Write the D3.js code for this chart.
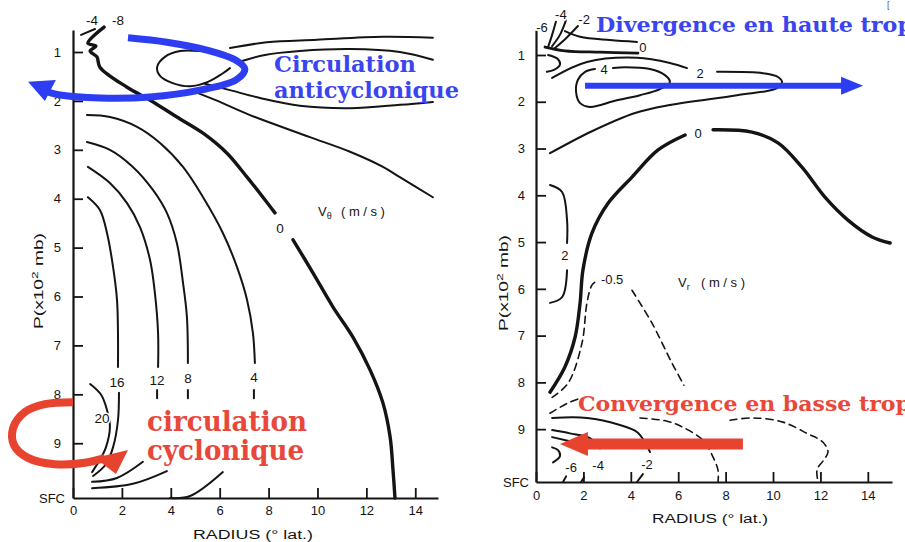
<!DOCTYPE html>
<html><head><meta charset="utf-8">
<script src="https://cdn.jsdelivr.net/npm/d3@7"></script>
<style>
html,body{margin:0;padding:0;background:#fff;overflow:hidden}
svg{display:block}
</style></head><body>
<svg id="chart" width="905" height="542"></svg>
<script>
// ---------- ticks ----------
const rTicks = [0, 2, 4, 6, 8, 10, 12, 14];
const pTicks = [1, 2, 3, 4, 5, 6, 7, 8, 9];
const sfcLeft = 10.12, sfcRight = 10.13;

// ---------- LEFT PANEL : V_theta contours  [radius (deg lat), pressure (x100 mb)] ----------
const vt0a = [[1.27,0.49],[0.61,0.82],[0.94,0.88],[0.70,0.98],[0.98,1.10],[1.10,1.31],[2.21,1.72],[3.14,1.98],[4.25,2.33],[5.32,2.66],[6.30,3.07],[7.12,3.56],[7.77,3.97],[8.26,4.29]];
const vt0b = [[9.00,4.84],[9.82,5.52],[10.63,6.21],[11.45,6.83],[12.15,7.50],[12.68,8.18],[12.97,8.87],[13.09,9.55],[13.17,10.12]];
const vtM4top = [[0.33,0.65],[0.90,0.53]];
const vtM4loop = [[6.50,1.16],[5.93,1.04],[5.19,0.98],[4.38,0.98],[3.76,1.10],[3.44,1.31],[3.56,1.49],[4.05,1.63],[4.79,1.70],[5.52,1.61],[6.09,1.45],[6.42,1.33]];
const vtOuter = [[6.42,0.92],[7.93,0.80],[9.98,0.75],[12.68,0.69],[14.72,0.71]];
const vtJetTop = [[6.95,1.18],[7.85,1.06],[9.28,0.98],[11.33,0.94],[13.37,1.00],[14.72,1.16]];
const vtJetBot = [[5.40,1.65],[6.42,1.78],[7.65,1.94],[9.28,2.10],[11.33,2.15],[13.37,2.08],[14.72,2.02]];
const vtNeg = [[4.79,1.78],[5.81,1.98],[7.24,2.29],[9.69,2.74],[11.33,3.04],[12.68,3.35],[13.37,3.56],[14.72,3.97]];
const vt4 = [[0.57,2.29],[1.51,2.33],[2.62,2.53],[3.56,2.86],[4.50,3.35],[5.32,3.97],[6.13,4.70],[6.71,5.40],[7.12,6.07],[7.36,6.75],[7.44,7.36]];
const vt4tail = [[7.40,7.91],[7.40,8.08]];
const vt4low = [[3.97,10.12],[4.79,10.08],[6.13,9.59]];
const vt8 = [[0.57,2.84],[1.51,3.00],[2.45,3.35],[3.27,3.82],[3.84,4.29],[4.25,4.91],[4.50,5.72],[4.66,6.42],[4.70,7.36]];
const vt8tail = [[4.70,7.91],[4.70,8.08]];
const vt8low = [[0.78,9.92],[2.45,9.83],[3.84,9.57]];
const vt12 = [[0.61,3.35],[1.51,3.68],[2.21,4.09],[2.74,4.58],[3.15,5.25],[3.35,5.93],[3.48,6.75],[3.48,7.44]];
const vt12tail = [[3.44,7.91],[3.44,8.08]];
const vt12low = [[0.78,9.79],[1.80,9.71],[2.86,9.38]];
const vt16 = [[0.61,3.97],[1.10,4.23],[1.39,4.70],[1.64,5.40],[1.80,6.07],[1.84,6.75],[1.84,7.44]];
const vt16low = [[1.88,7.97],[1.84,8.53],[1.64,9.08],[1.35,9.43],[0.82,9.67]];
const vt20 = [[0.70,7.79],[1.15,8.01],[1.39,8.32],[1.51,8.67],[1.35,9.08],[1.10,9.34],[0.78,9.59]];
const vtLabelText = ["-4", "-8", "0", "4", "8", "12", "16", "20"];
const vtLabelPos = [[0.78,0.35],[1.84,0.35],[8.47,4.60],[7.40,7.65],[4.70,7.67],[3.44,7.71],[1.80,7.75],[1.19,8.50]];

// ---------- RIGHT PANEL : V_r contours ----------
const vr0a = [[0.59,8.21],[1.22,7.67],[1.65,7.03],[1.86,6.30],[1.98,5.60],[2.36,4.81],[3.04,4.17],[4.05,3.61],[5.15,3.03],[6.29,2.71]];
const vr0b = [[7.47,2.60],[9.11,2.65],[10.21,2.88],[11.22,3.40],[12.19,4.04],[13.16,4.53],[14.18,4.89],[14.94,5.02]];
const vr2a = [[0.59,3.78],[1.10,3.93],[1.31,4.53],[1.31,5.02]];
const vr2b = [[1.31,5.60],[1.10,6.18],[0.59,6.30]];
const vr2loopA = [[0.59,3.10],[2.36,2.63],[4.18,2.24],[5.65,2.07],[8.48,1.86],[10.17,1.71],[10.38,1.58],[10.21,1.47],[9.58,1.39],[7.64,1.36]];
const vr2loopB = [[6.37,1.28],[5.65,1.17],[4.26,1.06],[2.15,1.15],[0.68,1.49]];
const vr4loop = [[3.25,1.28],[3.76,1.26],[4.81,1.30],[5.44,1.43],[5.65,1.58],[5.23,1.73],[4.39,1.86],[3.33,1.98],[2.28,2.11],[1.86,2.03],[1.69,1.79],[1.77,1.53],[2.07,1.36],[2.49,1.30]];
const vrTop0a = [[1.22,0.49],[1.86,0.61],[3.12,0.68],[4.26,0.72]];
const vrTop0b = [[0.38,0.83],[1.22,0.91],[2.70,0.94],[4.30,0.96]];
const vrBracket = [[0.51,1.00],[0.93,1.09],[1.01,1.21],[0.76,1.32],[0.46,1.36]];
const vrCore1 = [[0.84,0.29],[0.68,0.57],[0.51,0.83]];
const vrCore2 = [[1.27,0.25],[1.01,0.57],[0.68,0.81]];
const vrCore3 = [[1.77,0.38],[1.27,0.64],[0.80,0.85]];
const vrM2a = [[0.68,8.76],[2.15,8.76],[3.54,8.91],[4.26,9.06],[4.60,9.28],[4.81,9.49]];
const vrM2b = [[4.51,9.96],[4.26,10.13]];
const vrM4a = [[0.68,9.02],[1.43,9.09],[2.28,9.19],[2.70,9.41]];
const vrM4b = [[2.03,10.03],[1.90,10.13]];
const vrM3 = [[0.68,9.17],[1.43,9.26]];
const vrM6a = [[0.68,9.39],[0.93,9.45],[1.01,9.58],[0.72,9.71]];
const vrM6b = [[1.27,10.01],[1.14,10.13]];
// dashed (-0.5 / -1) contours
const vrD05a = [[0.68,8.32],[1.35,8.02],[1.94,7.16],[2.15,6.30],[2.36,5.92],[2.57,5.83]];
const vrD05b = [[4.05,6.03],[4.89,6.73],[5.74,7.59],[6.24,8.06]];
const vrDshort = [[0.59,8.66],[1.31,8.45],[1.86,8.34]];
const vrDmid = [[4.39,8.76],[5.53,8.83],[6.20,8.96],[7.05,9.24],[7.47,9.60],[7.68,9.88],[7.68,10.13]];
const vrDout = [[8.19,8.81],[9.16,8.76],[10.42,8.85],[11.43,9.09],[12.11,9.28],[12.32,9.49],[12.11,9.68],[11.86,9.86],[11.90,10.13]];
const vrLabelText = ["-6", "-4", "-2", "0", "4", "2", "0", "2", "-0.5", "-6", "-4", "-2"];
const vrLabelPos = [[0.25,0.42],[1.05,0.14],[2.03,0.25],[4.51,0.83],[2.87,1.32],[6.92,1.39],[6.84,2.67],[1.22,5.28],[3.21,5.81],[1.48,9.81],[2.62,9.77],[4.68,9.75]];

// ---------- annotation arrows ----------
const blueLoop = [[2.25,0.71],[3.84,0.80],[5.48,0.96],[6.63,1.16],[7.03,1.35],[6.67,1.57],[5.19,1.78],[3.15,1.92],[1.10,1.94],[-0.53,1.88],[-1.02,1.82]];
const blueLoopHead = [[-1.84,1.61],[-0.70,1.57],[-1.15,2.00]];
const redLoop = [[0.00,8.16],[-1.15,8.20],[-1.96,8.36],[-2.45,8.69],[-2.41,9.04],[-1.84,9.30],[-0.74,9.43],[0.49,9.40],[1.31,9.30]];
const redLoopHead = [[0.90,9.30],[2.25,9.14],[1.76,9.63]];
const blueArrow = [[2.07,1.66],[13.80,1.66]];
const redArrow = [[8.73,9.32],[1.01,9.32]];

// ---------- drawing ----------
const svg = d3.select("#chart");
svg.append("rect").attr("width",905).attr("height",542).attr("fill","#fff");
const L = {x: d3.scaleLinear().domain([0,14.93]).range([73,438]),
           y: d3.scaleLinear().domain([0.55,sfcLeft]).range([30,498])};
const R = {x: d3.scaleLinear().domain([0,15.02]).range([536,892]),
           y: d3.scaleLinear().domain([0.47,sfcRight]).range([30.2,482])};
const INK = "#141414";
const tickFont = "Liberation Sans, Arial, sans-serif";

function axes(P, sfc, ypad, xpad) {
  const g = svg.append("g");
  const ya = d3.axisLeft(P.y).tickValues([...pTicks, sfc])
    .tickFormat(d => d === sfc ? "SFC" : d).tickSizeInner(-10).tickSizeOuter(0).tickPadding(ypad);
  const xa = d3.axisBottom(P.x).tickValues(rTicks).tickSizeInner(-10).tickSizeOuter(0).tickPadding(xpad);
  const gy = g.append("g").attr("transform", `translate(${P.x(0)},0)`).call(ya);
  const gx = g.append("g").attr("transform", `translate(0,${P.y(sfc)})`).call(xa);
  [gx, gy].forEach(a => {
    a.select(".domain").attr("stroke", INK).attr("stroke-width", 2.2);
    a.selectAll(".tick line").attr("stroke", INK).attr("stroke-width", 1.8);
    a.selectAll(".tick text").attr("fill", INK).attr("font-size", 13).attr("font-family", tickFont);
  });
  gy.selectAll(".tick text").filter(d => d === sfc).attr("dx", 4);
  gy.selectAll(".tick line").filter(d => d === sfc).remove();
  return g;
}
axes(L, sfcLeft, 12, 8);
axes(R, sfcRight, 11, 9);

// axis titles
function yTitle(x, y) {
  const t = svg.append("text").attr("transform", `translate(${x},${y}) rotate(-90)`)
    .attr("text-anchor", "middle").attr("font-family", tickFont).attr("font-size", 12.5).attr("fill", INK)
    .attr("textLength", 96).attr("lengthAdjust", "spacingAndGlyphs");
  t.append("tspan").text("P(x10");
  t.append("tspan").attr("dy", -5).attr("font-size", 9).text("2");
  t.append("tspan").attr("dy", 5).text(" mb)");
}
yTitle(L.x(0) - 30, 281);
yTitle(R.x(0) - 28, 283);
function xTitle(x, y, len) {
  svg.append("text").attr("x", x).attr("y", y).attr("text-anchor", "middle")
    .attr("font-family", tickFont).attr("font-size", 12.5).attr("fill", INK)
    .attr("textLength", len).attr("lengthAdjust", "spacingAndGlyphs").text("RADIUS  (° lat.)");
}
xTitle(253, 539, 120);
xTitle(710, 523, 116);

// contours
function contour(P, data, opt) {
  const line = d3.line().x(d => P.x(d[0])).y(d => P.y(d[1])).curve(d3.curveCatmullRom.alpha(0.5));
  svg.append("path").datum(data).attr("d", line).attr("fill", "none")
    .attr("stroke", INK).attr("stroke-width", opt.w || 1.9)
    .attr("stroke-linecap", "round").attr("stroke-linejoin", "round")
    .attr("stroke-dasharray", opt.dash || null);
}
const thin = {w: 2}, thick = {w: 3.4}, dash = {w: 1.6, dash: "7,5"};
[vtM4top, vtM4loop, vtOuter, vtJetTop, vtJetBot, vtNeg, vt4, vt4tail, vt4low, vt8, vt8tail, vt8low,
 vt12, vt12tail, vt12low, vt16, vt16low, vt20].forEach(d => contour(L, d, thin));
[vt0a, vt0b].forEach(d => contour(L, d, thick));
[vr2a, vr2b, vr2loopA, vr2loopB, vr4loop, vrTop0a, vrBracket, vrCore1, vrCore2, vrCore3,
 vrM2a, vrM2b, vrM4a, vrM4b, vrM3, vrM6a, vrM6b].forEach(d => contour(R, d, thin));
[vr0a, vr0b].forEach(d => contour(R, d, thick));
contour(R, vrTop0b, {w: 2.8});
[vrD05a, vrD05b, vrDshort, vrDmid, vrDout].forEach(d => contour(R, d, dash));

function labels(P, texts, pos, size) {
  svg.append("g").selectAll("text").data(texts).join("text")
    .attr("x", (d, i) => P.x(pos[i][0])).attr("y", (d, i) => P.y(pos[i][1]))
    .attr("text-anchor", "middle").attr("dominant-baseline", "central")
    .attr("font-family", tickFont).attr("font-size", size).attr("fill", INK)
    .attr("stroke", "#fff").attr("stroke-width", 3).attr("paint-order", "stroke")
    .text(d => d);
}
labels(L, vtLabelText, vtLabelPos, 13.5);
labels(R, vrLabelText, vrLabelPos, 13);

// quantity labels
function quantity(P, r, p, sub) {
  const x0 = P.x(r), y0 = P.y(p);
  const t = svg.append("text").attr("x", x0).attr("y", y0)
    .attr("font-family", tickFont).attr("font-size", 13).attr("fill", INK);
  t.append("tspan").text("V");
  t.append("tspan").attr("dy", 3).attr("font-size", 9).text(sub);
  svg.append("text").attr("x", x0 + 23).attr("y", y0)
    .attr("font-family", tickFont).attr("font-size", 13).attr("fill", INK)
    .attr("textLength", 44).attr("lengthAdjust", "spacing").text("(m/s)");
}
quantity(L, 10.02, 4.35, "θ");
quantity(R, 5.99, 5.96, "r");

// annotations
const BLUE = "#2d3df2", RED = "#e8432e";
function curvePath(P, data, color, w, curve) {
  const line = d3.line().x(d => P.x(d[0])).y(d => P.y(d[1])).curve(curve);
  svg.append("path").datum(data).attr("d", line).attr("fill", "none")
    .attr("stroke", color).attr("stroke-width", w).attr("stroke-linecap", "butt");
}
function head(P, pts, color) {
  svg.append("polygon").attr("points", pts.map(d => [P.x(d[0]), P.y(d[1])].join(",")).join(" "))
    .attr("fill", color);
}
curvePath(L, blueLoop, BLUE, 7, d3.curveCatmullRom.alpha(0.5));
head(L, blueLoopHead, BLUE);
curvePath(L, redLoop, RED, 8, d3.curveCatmullRom.alpha(0.5));
head(L, redLoopHead, RED);

function straightArrow(P, pts, color, w, hl, hw) {
  const x1 = P.x(pts[0][0]), y1 = P.y(pts[0][1]), x2 = P.x(pts[1][0]), y2 = P.y(pts[1][1]);
  const dir = Math.sign(x2 - x1);
  svg.append("line").attr("x1", x1).attr("y1", y1).attr("x2", x2 - dir * hl * 0.8).attr("y2", y2)
    .attr("stroke", color).attr("stroke-width", w);
  svg.append("polygon").attr("points", `${x2},${y2} ${x2 - dir * hl},${y2 - hw} ${x2 - dir * hl},${y2 + hw}`)
    .attr("fill", color);
}
straightArrow(R, blueArrow, BLUE, 6, 22, 9);
straightArrow(R, redArrow, RED, 11, 28, 12);

function note(P, r, p, str, size, len, color) {
  svg.append("text").attr("x", P.x(r)).attr("y", P.y(p))
    .attr("font-family", "DejaVu Serif, serif").attr("font-weight", "bold")
    .attr("font-size", size).attr("fill", color)
    .attr("textLength", len).attr("lengthAdjust", "spacingAndGlyphs").text(str);
}
note(L, 8.22, 1.41, "Circulation", 22, 142, "#3a45f0");
note(L, 8.22, 1.94, "anticyclonique", 22, 185, "#3a45f0");
note(L, 3.03, 8.75, "circulation", 27, 160, "#e8483a");
note(L, 3.03, 9.34, "cyclonique", 27, 157, "#e8483a");
note(R, 2.53, 0.51, "Divergence en haute trop", 21, 317, "#3a45f0");
note(R, 1.77, 8.61, "Convergence en basse trop", 21, 333, "#e8483a");

svg.append("text").attr("x", 887).attr("y", 8).attr("font-family", tickFont)
  .attr("font-size", 9).attr("fill", "#555").text("[");
</script>
</body></html>
